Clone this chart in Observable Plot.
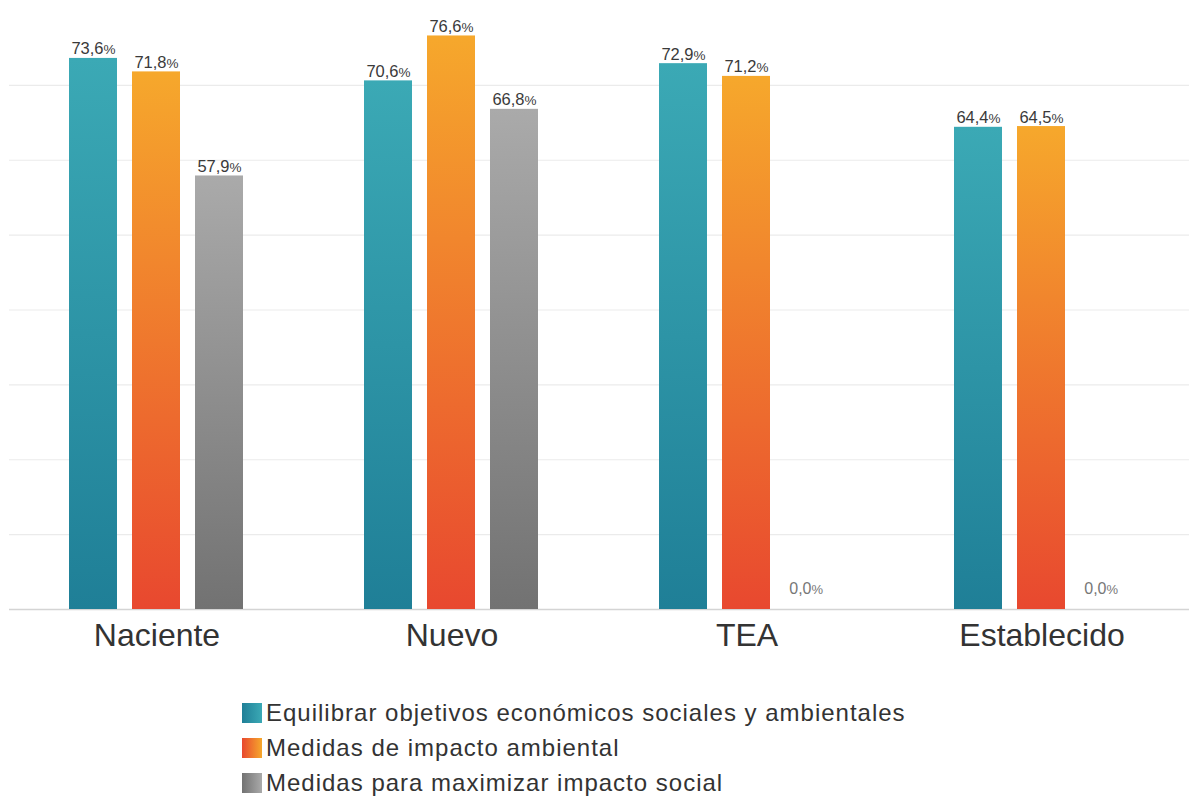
<!DOCTYPE html>
<html>
<head>
<meta charset="utf-8">
<script src="https://cdn.jsdelivr.net/npm/d3@7"></script>
<script src="https://cdn.jsdelivr.net/npm/@observablehq/plot@0.6"></script>
<style>
  body { margin: 0; background: #fff; font-family: "Liberation Sans", Arial, sans-serif; }
  #chart svg { display: block; }
  #chart [aria-label^="fx-axis"] text { font-size: 32px; fill: #333; }
  .legend { margin: 30px 0 0 242px; }
  .legend .item { display: flex; align-items: center; height: 35px; font-size: 24px; letter-spacing: 1px; color: #333; }
  .legend .sw { width: 20px; height: 20px; margin-right: 4px; }
</style>
</head>
<body>
<div id="chart"></div>
<div class="legend" id="legend"></div>
<script>
const categories = ["Naciente", "Nuevo", "TEA", "Establecido"];
const series = [
  "Equilibrar objetivos económicos sociales y ambientales",
  "Medidas de impacto ambiental",
  "Medidas para maximizar impacto social"
];
const equilibrar = [73.6, 70.6, 72.9, 64.4];
const ambiental = [71.8, 76.6, 71.2, 64.5];
const social = [57.9, 66.8, 0, 0];
const gridTicks = [10, 20, 30, 40, 50, 60, 70];

const gradIds = ["gTeal", "gOrange", "gGray"];
const gradStops = [["#3ba9b5", "#1f7f97"], ["#f6a82c", "#e8482f"], ["#aaaaaa", "#727272"]];

const values = [equilibrar, ambiental, social];
const rows = categories.flatMap((c, i) => series.map((s, j) => ({cat: c, s, v: values[j][i]})));
const fmt = v => v.toFixed(1).replace(".", ",");

const marks = [
  Plot.ruleY(gridTicks, {stroke: "#ebebeb", strokeWidth: 1.2}),
  Plot.ruleY([0], {stroke: "#d4d4d4", strokeWidth: 1.5}),
  ...series.map((s, j) => Plot.barY(rows, {
    filter: d => d.s === s, x: "s", y: "v", fill: `url(#${gradIds[j]})`
  })),
  Plot.text(rows, {filter: d => d.v > 0, x: "s", y: "v", text: d => fmt(d.v),
    textAnchor: "end", lineAnchor: "bottom", dx: 10, dy: -4, fontSize: 16.5, fill: "#3a3a3a"}),
  Plot.text(rows, {filter: d => d.v > 0, x: "s", y: "v", text: d => "%",
    textAnchor: "start", lineAnchor: "bottom", dx: 10, dy: -4, fontSize: 13.5, fill: "#3a3a3a"}),
  Plot.text(rows, {filter: d => d.v === 0, x: "s", y: "v", text: d => fmt(d.v),
    textAnchor: "end", lineAnchor: "bottom", dx: 2, dy: -16, fontSize: 16, fill: "#777"}),
  Plot.text(rows, {filter: d => d.v === 0, x: "s", y: "v", text: d => "%",
    textAnchor: "start", lineAnchor: "bottom", dx: 2, dy: -16, fontSize: 13, fill: "#777"})
];

const plot = Plot.plot({
  width: 1189,
  height: 665,
  marginTop: 10,
  marginBottom: 56,
  marginLeft: 8,
  marginRight: 0,
  style: {fontFamily: "Liberation Sans, Arial, sans-serif", background: "#fff"},
  facet: {data: rows, x: "cat"},
  fx: {domain: categories, padding: 0, label: null, axis: "bottom", tickSize: 0, tickPadding: 14},
  x: {domain: series, axis: null, paddingInner: 0.234, paddingOuter: 0.922},
  y: {domain: [0, 80], axis: null},
  marks
});

const svg = plot.tagName.toLowerCase() === "svg" ? plot : plot.querySelector("svg");
const ns = "http://www.w3.org/2000/svg";
const defs = document.createElementNS(ns, "defs");
gradIds.forEach((id, j) => {
  const g = document.createElementNS(ns, "linearGradient");
  g.setAttribute("id", id);
  g.setAttribute("x1", "0"); g.setAttribute("y1", "0");
  g.setAttribute("x2", "0"); g.setAttribute("y2", "1");
  gradStops[j].forEach((c, k) => {
    const st = document.createElementNS(ns, "stop");
    st.setAttribute("offset", k === 0 ? "0" : "1");
    st.setAttribute("stop-color", c);
    g.appendChild(st);
  });
  defs.appendChild(g);
});
svg.insertBefore(defs, svg.firstChild);
document.getElementById("chart").appendChild(plot);

const legend = document.getElementById("legend");
series.forEach((s, j) => {
  const item = document.createElement("div");
  item.className = "item";
  const sw = document.createElement("div");
  sw.className = "sw";
  sw.style.background = `linear-gradient(to right, ${gradStops[j][1]}, ${gradStops[j][0]})`;
  const t = document.createElement("span");
  t.textContent = s;
  item.appendChild(sw); item.appendChild(t);
  legend.appendChild(item);
});
</script>
</body>
</html>
